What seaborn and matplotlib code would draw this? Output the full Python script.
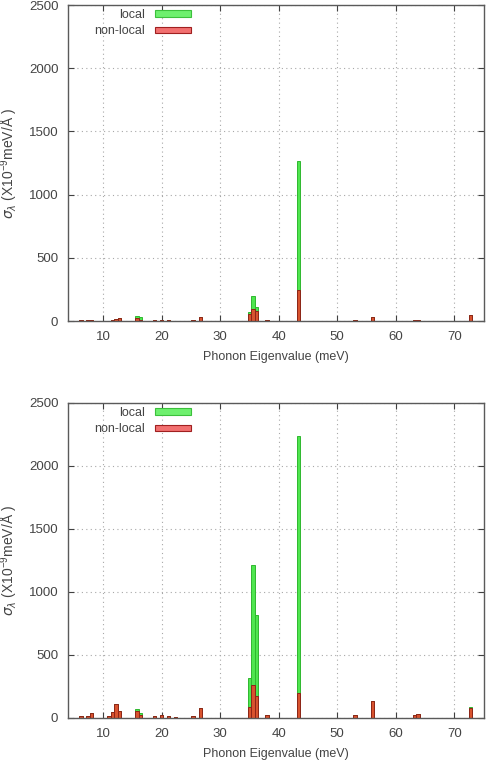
import matplotlib
matplotlib.use("Agg")
import matplotlib.pyplot as plt
from matplotlib.patches import Patch
import seaborn as sns
import pandas as pd

# phonon eigenvalues (meV, bin centres) and sigma_lambda values, top panel
top_x = [6.2, 7.4, 8.0, 11.6, 12.2, 12.8, 15.8, 16.4, 18.8, 20.0, 21.2, 22.4,
         25.4, 26.6, 35.0, 35.6, 36.2, 38.0, 43.4, 53.0, 56.0, 63.2, 63.8, 72.8]
top_local = [8, 8, 8, 6, 15, 22, 40, 35, 8, 10, 6, 4,
             5, 35, 68, 198, 108, 6, 1265, 5, 30, 10, 12, 47]
top_nonlocal = [8, 8, 8, 6, 13, 20, 20, 10, 8, 10, 6, 4,
                5, 35, 53, 95, 79, 6, 242, 5, 30, 10, 12, 47]

# bottom panel
bot_x = [6.2, 7.4, 8.0, 11.0, 11.6, 12.2, 12.8, 15.8, 16.4, 18.8, 20.0, 21.2,
         22.4, 25.4, 26.6, 35.0, 35.6, 36.2, 38.0, 43.4, 53.0, 56.0, 63.2, 63.8, 72.8]
bot_local = [18, 13, 37, 13, 48, 109, 53, 74, 40, 18, 21, 13,
             5, 18, 82, 318, 1212, 815, 21, 2236, 26, 132, 26, 34, 87]
bot_nonlocal = [18, 13, 37, 13, 48, 109, 53, 53, 20, 18, 21, 13,
                5, 18, 82, 87, 265, 172, 21, 201, 26, 132, 26, 34, 79]

bin_width = 0.6
bin_range = (4.1, 75.5)
x_ticks = [10, 20, 30, 40, 50, 60, 70]
y_ticks = [0, 500, 1000, 1500, 2000, 2500]

GREEN = "#4fe64f"
GREEN_EDGE = "#2fb82f"
RED = "#d8532e"
RED_EDGE = "#8e2418"
TEXT = "#444444"

sns.set_theme(style="white")
plt.rcParams["font.family"] = ["Liberation Sans", "DejaVu Sans"]
plt.rcParams["font.size"] = 9
plt.rcParams["mathtext.fontset"] = "dejavusans"

fig = plt.figure(figsize=(4.86, 7.6), dpi=100)
ax_top = fig.add_axes([0.140, 0.5776, 0.856, 0.4158])
ax_bot = fig.add_axes([0.140, 0.0553, 0.856, 0.4145])


def draw_panel(ax, xs, local, nonlocal_):
    df = pd.DataFrame({"x": xs, "local": local, "nonlocal": nonlocal_})
    sns.histplot(data=df, x="x", weights="local", binwidth=bin_width,
                 binrange=bin_range, ax=ax, color=GREEN, alpha=1,
                 edgecolor=GREEN_EDGE, linewidth=0.7)
    sns.histplot(data=df, x="x", weights="nonlocal", binwidth=bin_width,
                 binrange=bin_range, ax=ax, color=RED, alpha=1,
                 edgecolor=RED_EDGE, linewidth=0.7)
    # drop the empty bins so they don't draw on the baseline
    for p in list(ax.patches):
        if p.get_height() == 0:
            p.remove()

    ax.set_xlim(4.0, 75.1)
    ax.set_ylim(0, 2500)
    ax.set_xticks(x_ticks)
    ax.set_yticks(y_ticks)
    ax.grid(True, linestyle=(0, (1, 3)), color="#a8a8a8", linewidth=0.8)
    ax.set_axisbelow(True)
    for s in ax.spines.values():
        s.set_visible(True)
        s.set_color("#5a5a5a")
        s.set_linewidth(1.0)
    ax.tick_params(direction="in", length=4, width=0.8, color="#404040",
                   top=True, right=True, bottom=True, left=True,
                   labelsize=9.5, labelcolor=TEXT, pad=7)

    ax.set_xlabel("Phonon Eigenvalue (meV)", fontsize=9, color=TEXT, labelpad=6)
    ax.set_ylabel(r"$\sigma_\lambda$ (X10$^{\mathregular{-9}}$meV/Å )",
                  fontsize=10, color=TEXT)
    ax.yaxis.set_label_coords(-0.115, 0.5)

    handles = [Patch(facecolor="#6ef06e", edgecolor="#3cc03c", linewidth=0.8),
               Patch(facecolor="#f27070", edgecolor="#a02020", linewidth=0.8)]
    ax.legend(handles, ["local", "non-local"], loc="upper right",
              bbox_to_anchor=(0.302, 0.995), frameon=False, markerfirst=False,
              handlelength=2.9, handleheight=0.45, handletextpad=0.8,
              labelspacing=0.35, borderpad=0.2, borderaxespad=0,
              fontsize=9, labelcolor=TEXT)


draw_panel(ax_top, top_x, top_local, top_nonlocal)
draw_panel(ax_bot, bot_x, bot_local, bot_nonlocal)

fig.savefig("out.png", dpi=100, facecolor="white")
